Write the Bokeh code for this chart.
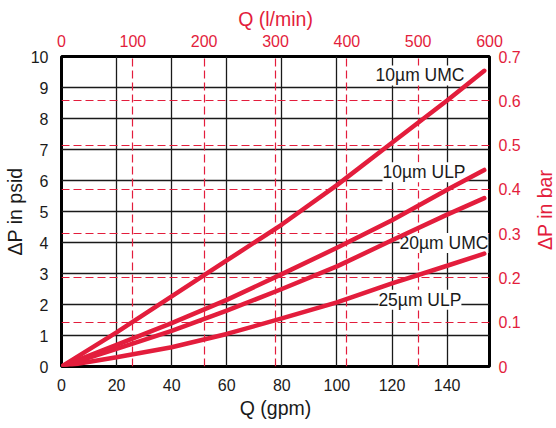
import math
from bokeh.plotting import figure
from bokeh.layouts import row
from bokeh.models import (Range1d, LinearAxis, FixedTicker, Grid, ColumnDataSource,
                          LabelSet, NumeralTickFormatter)
from bokeh.embed import file_html
from bokeh.resources import INLINE
from bokeh.core.properties import value

# ---- data ----
gpm = [0, 20, 40, 60, 80, 100, 120, 140, 153.5]
umc10 = [0, 1.10, 2.26, 3.42, 4.58, 5.85, 7.22, 8.58, 9.54]
ulp10 = [0, 0.70, 1.40, 2.15, 2.98, 3.83, 4.72, 5.70, 6.34]
umc20 = [0, 0.57, 1.15, 1.80, 2.50, 3.23, 4.07, 4.90, 5.43]
ulp25 = [0, 0.30, 0.62, 1.05, 1.55, 2.07, 2.68, 3.25, 3.64]

series_names = ["10µm UMC", "10µm ULP", "20µm UMC", "25µm ULP"]
series_values = [umc10, ulp10, umc20, ulp25]

gpm_ticks = [0, 20, 40, 60, 80, 100, 120, 140]
psid_ticks = [0, 1, 2, 3, 4, 5, 6, 7, 8, 9, 10]
lpm_ticks = [0, 100, 200, 300, 400, 500, 600]
bar_ticks = [0, 0.1, 0.2, 0.3, 0.4, 0.5, 0.6, 0.7]

# label anchors (right end / vertical middle of each curve label)
label_x = [146.3, 146.7, 155.0, 145.2]
label_y = [9.39, 6.27, 3.98, 2.15]

RED = "#E31D3C"
INK = "#1a1a1a"
FONT = "Liberation Sans"

p = figure(width=530, height=428,
           x_range=Range1d(0, 155.4), y_range=Range1d(0, 10),
           output_backend="svg", toolbar_location=None,
           min_border_left=61, min_border_right=41,
           min_border_top=56, min_border_bottom=62)
p.extra_x_ranges = {"lpm": Range1d(0, 600)}
p.extra_y_ranges = {"bar": Range1d(0, 0.7)}
p.background_fill_color = "white"
p.border_fill_color = "white"
p.outline_line_color = "black"
p.outline_line_width = 3


def style(ax, color, standoff, title, title_standoff):
    ax.axis_line_color = None
    ax.major_tick_line_color = None
    ax.minor_tick_line_color = None
    ax.major_tick_out = 0
    ax.major_tick_in = 0
    ax.minor_tick_out = 0
    ax.minor_tick_in = 0
    ax.major_label_standoff = standoff
    ax.major_label_text_font = FONT
    ax.major_label_text_font_size = "16px"
    ax.major_label_text_color = color
    if title:
        ax.axis_label = title
        ax.axis_label_standoff = title_standoff
        ax.axis_label_text_font = FONT
        ax.axis_label_text_font_size = "19.5px"
        ax.axis_label_text_font_style = "normal"
        ax.axis_label_text_color = color


p.xaxis.ticker = FixedTicker(ticks=gpm_ticks)
p.yaxis.ticker = FixedTicker(ticks=psid_ticks)
style(p.xaxis[0], INK, 12, "Q (gpm)", 3)
style(p.yaxis[0], INK, 13, "ΔP in psid", 2)

top = LinearAxis(x_range_name="lpm", ticker=FixedTicker(ticks=lpm_ticks))
style(top, RED, 10, "Q (l/min)", 2)
p.add_layout(top, "above")

right = LinearAxis(y_range_name="bar", ticker=FixedTicker(ticks=bar_ticks),
                   formatter=NumeralTickFormatter(format="0.[0]"))
style(right, RED, 9, None, 0)
p.add_layout(right, "right")

# black solid grid
p.xgrid.ticker = FixedTicker(ticks=gpm_ticks[1:])
p.ygrid.ticker = FixedTicker(ticks=psid_ticks[1:-1])
for g in (p.xgrid[0], p.ygrid[0]):
    g.grid_line_color = INK
    g.grid_line_width = 1.3
    g.grid_line_alpha = 1.0

# red dashed grid for the secondary scales
gx = Grid(dimension=0, ticker=FixedTicker(ticks=lpm_ticks[1:-1]), x_range_name="lpm",
          grid_line_color=RED, grid_line_dash="8 4", grid_line_width=1.2)
gy = Grid(dimension=1, ticker=FixedTicker(ticks=bar_ticks[1:-1]), y_range_name="bar",
          grid_line_color=RED, grid_line_dash="8 4", grid_line_width=1.2)
p.add_layout(gx)
p.add_layout(gy)

# curve labels with white boxes (drawn under the curves)
src = ColumnDataSource(dict(x=label_x, y=label_y, name=series_names))
labels = LabelSet(x="x", y="y", text="name", source=src, text_align="right",
                  text_baseline="middle", text_font=value(FONT), text_font_size="17.5px",
                  text_color=INK, background_fill_color="white", level="underlay")
p.add_layout(labels)

for ys in series_values:
    p.line(gpm, ys, line_color=RED, line_width=4.5, line_cap="round")

# right-hand axis title (reads bottom to top), in a narrow strip beside the chart
t = figure(width=26, height=428, x_range=Range1d(0, 26), y_range=Range1d(0, 428),
           x_axis_type=None, y_axis_type=None, min_border=0,
           output_backend="svg", toolbar_location=None)
t.outline_line_color = None
t.background_fill_color = "white"
t.border_fill_color = "white"
t.text(x=[14.5], y=[216.3], text=["ΔP in bar"], angle=math.pi / 2,
       text_align="center", text_baseline="middle", text_font=value(FONT),
       text_font_size=value("19.5px"), text_color=RED)

layout = row(p, t, spacing=0)
open("out.html", "w").write(file_html(layout, INLINE))
